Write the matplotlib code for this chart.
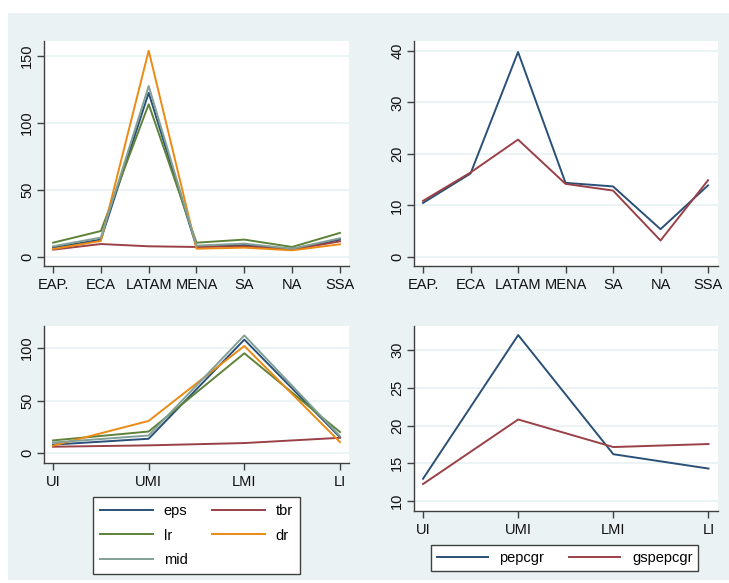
import matplotlib
matplotlib.use("Agg")
import matplotlib.pyplot as plt
from matplotlib.patches import Rectangle

plt.rcParams['font.family'] = ['Liberation Sans', 'DejaVu Sans']

regions = ["EAP.", "ECA", "LATAM", "MENA", "SA", "NA", "SSA"]
income = ["UI", "UMI", "LMI", "LI"]

# Region panel (top-left)
reg_eps = [7, 13, 122.5, 7.5, 9, 6, 13]
reg_tbr = [5.5, 9.7, 8, 7.5, 8, 5.5, 11.7]
reg_lr = [10.7, 19.4, 114, 10.7, 13, 7.5, 18]
reg_dr = [6, 12, 154, 6.2, 7, 5, 9.5]
reg_mid = [8, 14.5, 127.6, 8.5, 10, 6.2, 14]

# Region panel (top-right)
reg_pepcgr = [10.5, 16.2, 39.8, 14.4, 13.7, 5.4, 13.9]
reg_gspepcgr = [10.9, 16.4, 22.8, 14.2, 12.9, 3.2, 14.9]

# Income panel (bottom-left)
inc_eps = [8, 13.6, 108, 15]
inc_tbr = [6, 7.3, 9.5, 14.5]
inc_lr = [12, 20.5, 95, 20]
inc_dr = [7, 30.6, 102, 10.4]
inc_mid = [10, 16.7, 112, 16]

# Income panel (bottom-right)
inc_pepcgr = [12.95, 31.98, 16.2, 14.3]
inc_gspepcgr = [12.25, 20.8, 17.15, 17.55]

NAVY = "#2A5077"
MAROON = "#9A4047"
GREEN = "#5E8238"
ORANGE = "#EC8A14"
TEAL = "#82A096"
BG = "#EAF2F3"
AX = "#404040"

W, H = 729, 583
fig = plt.figure(figsize=(W / 100, H / 100), dpi=100, facecolor="white")
fig.patches.append(Rectangle((8 / W, 1 - 580 / H), 1 - 8 / W, (580 - 13) / H,
                             transform=fig.transFigure, facecolor=BG,
                             edgecolor="none", zorder=-10))


def make_ax(l, t, r, b):
    ax = fig.add_axes([l / W, 1 - b / H, (r - l) / W, (b - t) / H])
    ax.set_facecolor("white")
    for s in ("top", "right"):
        ax.spines[s].set_visible(False)
    for s in ("left", "bottom"):
        ax.spines[s].set_color(AX)
        ax.spines[s].set_linewidth(1.0)
    ax.tick_params(axis="both", direction="out", length=5, width=1.0,
                   color=AX, labelsize=10.5, labelcolor="#111111")
    ax.tick_params(axis="y", labelrotation=90, pad=2)
    ax.grid(axis="y", color=BG, linewidth=1.3)
    ax.set_axisbelow(True)
    return ax


lw = 1.4

# Top-left
ax1 = make_ax(44, 41, 349, 266)
x = list(range(len(regions)))
for vals, c, lab in [(reg_eps, NAVY, "eps"), (reg_tbr, MAROON, "tbr"),
                     (reg_lr, GREEN, "lr"), (reg_dr, ORANGE, "dr"),
                     (reg_mid, TEAL, "mid")]:
    ax1.plot(x, vals, color=c, lw=lw, label=lab)
ax1.set_xticks(x)
ax1.set_xticklabels(regions)
ax1.set_yticks([0, 50, 100, 150])
ax1.set_xlim(-0.19, 6.19)
ax1.set_ylim(-6.7, 161.2)

# Top-right
ax2 = make_ax(414, 41, 718, 266)
ax2.plot(x, reg_pepcgr, color=NAVY, lw=lw)
ax2.plot(x, reg_gspepcgr, color=MAROON, lw=lw)
ax2.set_xticks(x)
ax2.set_xticklabels(regions)
ax2.set_yticks([0, 10, 20, 30, 40])
ax2.set_xlim(-0.19, 6.21)
ax2.set_ylim(-1.75, 41.94)

# Bottom-left
ax3 = make_ax(44, 326, 349, 463)
xi = list(range(len(income)))
handles = {}
for vals, c, lab in [(inc_eps, NAVY, "eps"), (inc_tbr, MAROON, "tbr"),
                     (inc_lr, GREEN, "lr"), (inc_dr, ORANGE, "dr"),
                     (inc_mid, TEAL, "mid")]:
    handles[lab], = ax3.plot(xi, vals, color=c, lw=lw, label=lab)
ax3.set_xticks(xi)
ax3.set_xticklabels(income)
ax3.set_yticks([0, 50, 100])
ax3.set_xlim(-0.094, 3.094)
ax3.set_ylim(-9.5, 121)

# Bottom-right
ax4 = make_ax(414, 326, 718, 511)
h1, = ax4.plot(xi, inc_pepcgr, color=NAVY, lw=lw, label="pepcgr")
h2, = ax4.plot(xi, inc_gspepcgr, color=MAROON, lw=lw, label="gspepcgr")
ax4.set_xticks(xi)
ax4.set_xticklabels(income)
ax4.set_yticks([10, 15, 20, 25, 30])
ax4.set_xlim(-0.095, 3.1)
ax4.set_ylim(8.68, 33.18)

for ax in (ax1, ax2, ax3, ax4):
    for lab in ax.get_yticklabels():
        lab.set_va("center")

# column-major order so rows read: eps tbr / lr dr / mid
order = ["eps", "lr", "mid", "tbr", "dr"]
leg1 = fig.legend([handles[k] for k in order], order, ncol=2,
                  loc="upper left",
                  bbox_to_anchor=(93 / W, 1 - 497 / H),
                  fontsize=10.5, handlelength=3.6,
                  frameon=True, fancybox=False, edgecolor=AX,
                  facecolor="white", framealpha=1, borderpad=0.5,
                  borderaxespad=0,
                  labelspacing=0.7, columnspacing=1.7, handletextpad=0.75)
leg1.get_frame().set_linewidth(1.0)

leg2 = fig.legend([h1, h2], ["pepcgr", "gspepcgr"], ncol=2,
                  loc="upper left",
                  bbox_to_anchor=(431 / W, 1 - 545 / H),
                  fontsize=10.5, handlelength=3.5,
                  frameon=True, fancybox=False, edgecolor=AX,
                  facecolor="white", framealpha=1, borderpad=0.4,
                  borderaxespad=0,
                  columnspacing=1.7, handletextpad=0.8)
leg2.get_frame().set_linewidth(1.0)

fig.savefig("out.png", dpi=100, facecolor="white")
